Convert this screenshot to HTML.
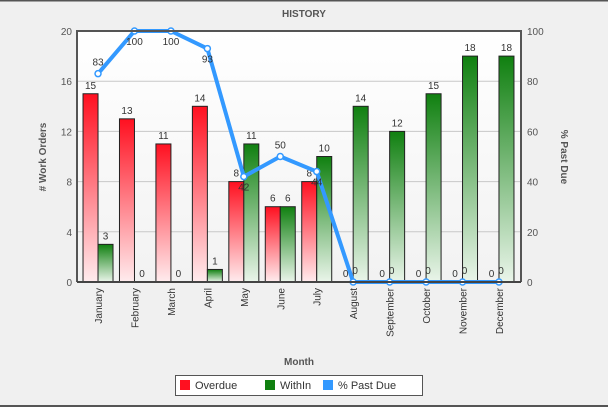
<!DOCTYPE html>
<html><head><meta charset="utf-8"><style>
body{margin:0;background:#f0f0f0;}
svg{display:block;font-family:"Liberation Sans",sans-serif;}
</style></head><body>
<svg width="608" height="407" viewBox="0 0 608 407">
<defs>
<linearGradient id="gr" x1="0" y1="0" x2="0" y2="1"><stop offset="0" stop-color="#ff1020"/><stop offset="1" stop-color="#ffecee"/></linearGradient>
<linearGradient id="gg" x1="0" y1="0" x2="0" y2="1"><stop offset="0" stop-color="#108010"/><stop offset="1" stop-color="#eaf5ea"/></linearGradient>
<linearGradient id="pbg" x1="0" y1="0" x2="0" y2="1"><stop offset="0" stop-color="#ffffff"/><stop offset="1" stop-color="#f2f2f2"/></linearGradient>
</defs>
<rect x="0" y="0" width="608" height="407" fill="#f0f0f0"/>
<line x1="0" y1="0.5" x2="608" y2="0.5" stroke="#555" stroke-width="2"/>
<line x1="0" y1="406" x2="608" y2="406" stroke="#555" stroke-width="2"/>
<text x="304" y="17" text-anchor="middle" font-size="10" font-weight="bold" fill="#555">HISTORY</text>
<rect x="77" y="31" width="444" height="251" fill="url(#pbg)"/>
<g id="grid"></g>
<g id="bars"></g>
<g id="line"></g>
<path d="M77,282 V31 H521 V282" fill="none" stroke="#555" stroke-width="2"/>
<line x1="77" y1="282" x2="521" y2="282" stroke="#444" stroke-width="2"/>
<g id="axes" font-size="10" fill="#555"></g>
<text x="299" y="365" text-anchor="middle" font-size="10" font-weight="bold" fill="#555">Month</text>
<text transform="translate(46,157) rotate(-90)" text-anchor="middle" font-size="10" font-weight="bold" fill="#555"># Work Orders</text>
<text transform="translate(561,157) rotate(90)" text-anchor="middle" font-size="10" font-weight="bold" fill="#555">% Past Due</text>
<g>
<rect x="175.5" y="375.5" width="247" height="20" fill="#fff" stroke="#555"/>
<g><rect x="180" y="380" width="10" height="10" fill="#ff1020"/><text x="195" y="389" font-size="11" fill="#333">Overdue</text></g>
<g><rect x="265" y="380" width="10" height="10" fill="#108010"/><text x="280" y="389" font-size="11" fill="#333">WithIn</text></g>
<g><rect x="323" y="380" width="10" height="10" fill="#3399ff"/><text x="338" y="389" font-size="11" fill="#333">% Past Due</text></g>
</g>
</svg>
<script>
const months=["January","February","March","April","May","June","July","August","September","October","November","December"];
const overdue=[15,13,11,14,8,6,8,0,0,0,0,0];
const within=[3,0,0,1,11,6,10,14,12,15,18,18];
const pastDue=[83,100,100,93,42,50,44,0,0,0,0,0];
const leftTicks=[0,4,8,12,16,20];
const rightTicks=[0,20,40,60,80,100];
const NS="http://www.w3.org/2000/svg";
const X0=79.8,STEP=36.45,Y0=282,Y1=31,BW=15;
const xc=i=>X0+STEP*(i+0.5);
const yl=v=>Y0-(v/20)*(Y0-Y1);
const yr=v=>Y0-(v/100)*(Y0-Y1);
function mk(tag,attrs,parent,txt){const e=document.createElementNS(NS,tag);for(const k in attrs)e.setAttribute(k,attrs[k]);if(txt!==undefined)e.textContent=txt;parent.appendChild(e);return e;}
const grid=document.getElementById('grid'),bars=document.getElementById('bars'),line=document.getElementById('line'),axes=document.getElementById('axes');
leftTicks.forEach(t=>{if(t>0&&t<20){const g=mk('line',{x1:77,x2:521,y1:yl(t),y2:yl(t),stroke:'#c8c8c8'},grid);

}
const l=mk('text',{x:72,y:yl(t)+4,'text-anchor':'end'},axes,t);

});
rightTicks.forEach(t=>{const l=mk('text',{x:527,y:yr(t)+4},axes,t);

});
months.forEach((m,i)=>{
const c=xc(i);
const r=mk('rect',{x:c-BW,y:yl(overdue[i]),width:BW,height:Y0-yl(overdue[i]),fill:'url(#gr)',stroke:'#222','stroke-width':1},bars);


const g=mk('rect',{x:c,y:yl(within[i]),width:BW,height:Y0-yl(within[i]),fill:'url(#gg)',stroke:'#222','stroke-width':1},bars);


const lo=mk('text',{x:c-BW/2,y:yl(overdue[i])-5,'text-anchor':'middle','font-size':10,fill:'#333'},bars,overdue[i]);


const lw=mk('text',{x:c+BW/2,y:yl(within[i])-5,'text-anchor':'middle','font-size':10,fill:'#333'},bars,within[i]);


const ml=mk('text',{transform:`translate(${c+4},288) rotate(-90)`,'text-anchor':'end','font-size':10,fill:'#333'},axes,m);


});
const pl=mk('polyline',{points:pastDue.map((v,i)=>xc(i)+','+yr(v)).join(' '),fill:'none',stroke:'#3399ff','stroke-width':4,'stroke-linejoin':'round'},line);


pastDue.forEach((v,i)=>{
const p=mk('circle',{cx:xc(i),cy:yr(v),r:3,fill:'#fff',stroke:'#3399ff','stroke-width':1.5},line);


const up=i===0||v===0||i===5;
const t=mk('text',{x:xc(i)+(v===0?2:0),y:up?yr(v)-8:yr(v)+14,'text-anchor':'middle','font-size':10,fill:'#333'},line,v);


});
</script>
</body></html>
